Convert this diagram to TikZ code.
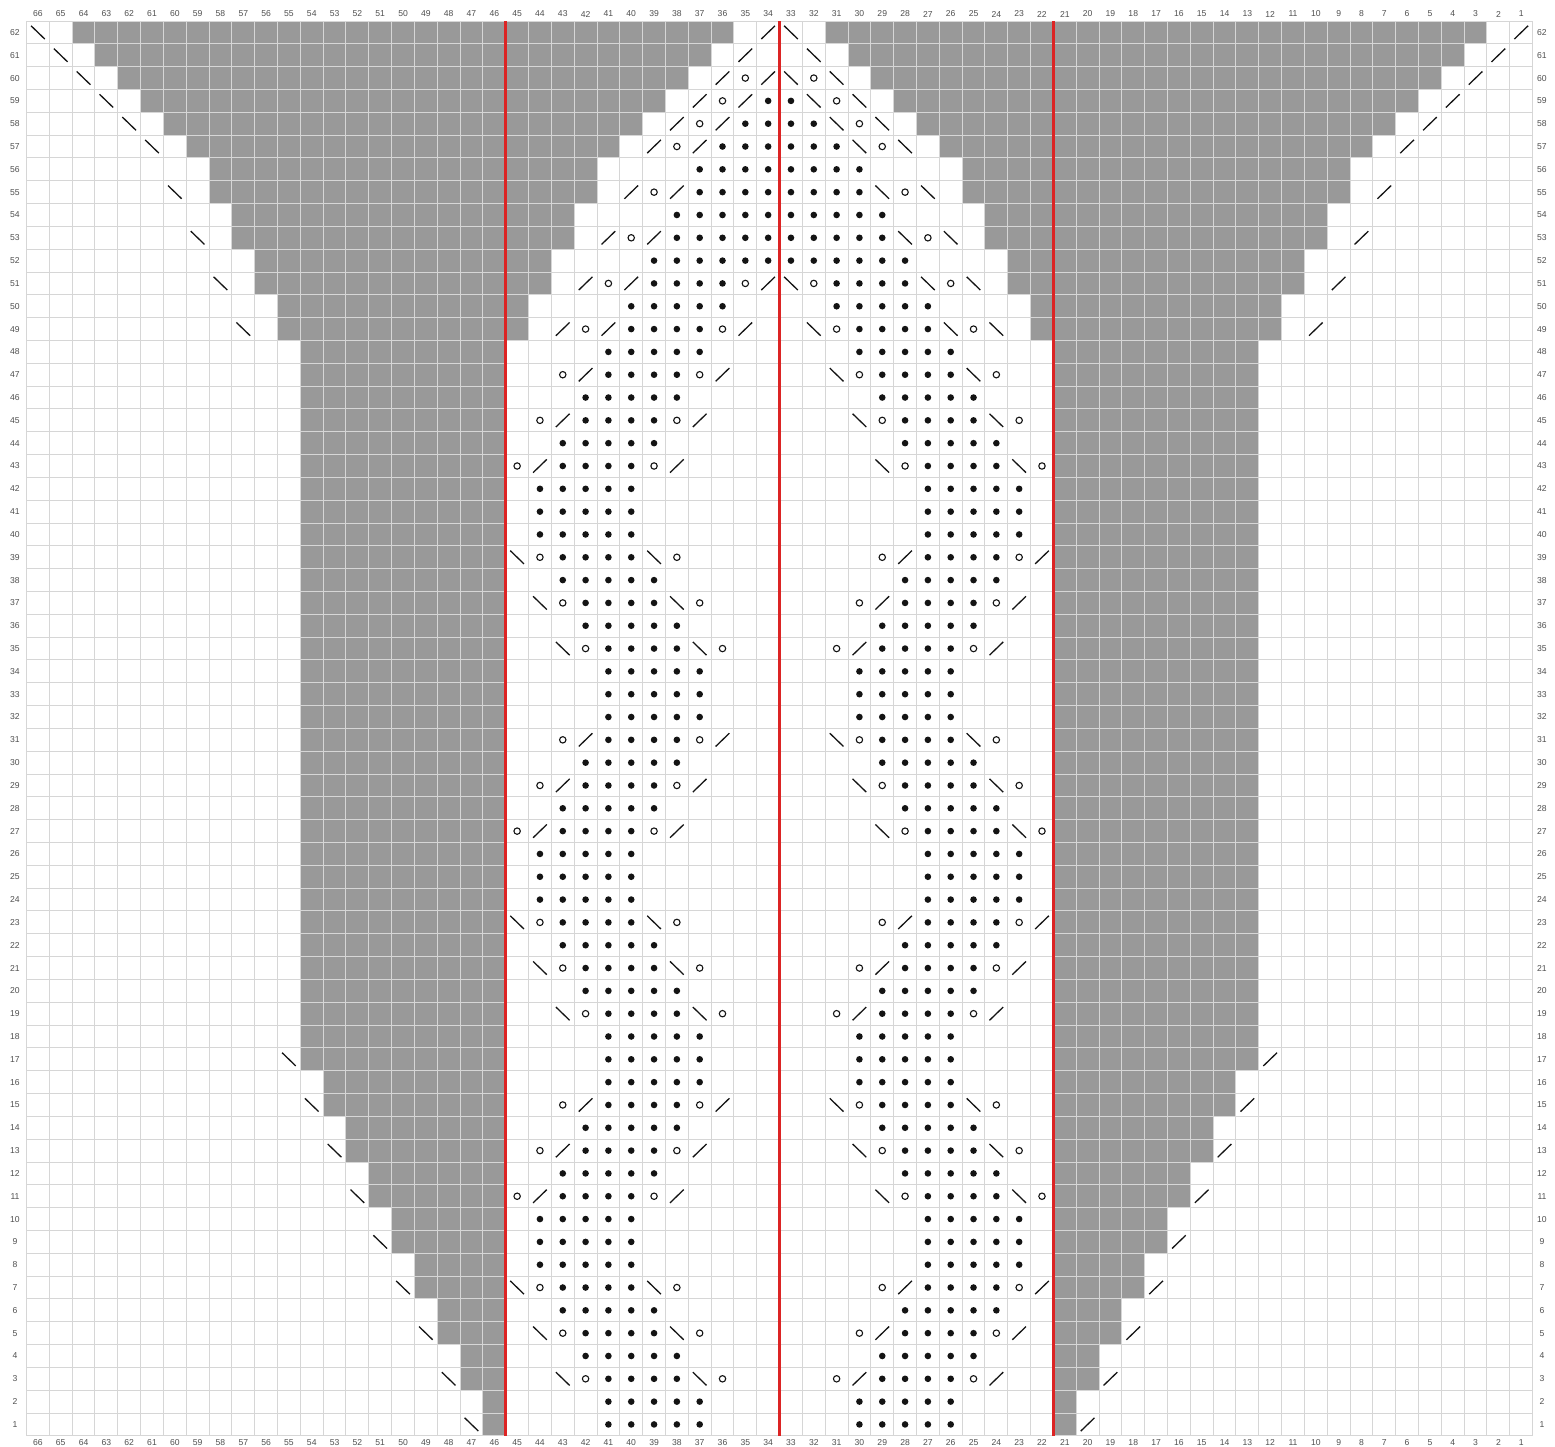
\documentclass[tikz,border=0pt]{standalone}
\usepackage{fontspec}
\setmainfont{Liberation Sans}
\definecolor{cellgray}{RGB}{153,153,153}
\definecolor{gridc}{RGB}{214,214,214}
\definecolor{redc}{RGB}{220,36,36}
\definecolor{labc}{RGB}{80,80,80}
\definecolor{symc}{RGB}{20,20,20}
\tikzset{
  gridline/.style={draw=gridc, line width=0.5pt},
  redline/.style={draw=redc, line width=1.6pt},
  lab/.style={inner sep=0pt, text=labc, font=\fontsize{4.3}{5}\selectfont},
  slc/.style={draw=symc, line width=0.65pt},
  yoc/.style={draw=symc, line width=0.55pt},
}
% gray row: row, from col A (left) to col B, plus mirror
\newcommand\GrRow[3]{%
  \fill[cellgray] ({66-(#2)},{62-(#1)}) rectangle ({67-(#3)},{63-(#1)});
  \fill[cellgray] ({(#3)-1},{62-(#1)}) rectangle ({#2},{63-(#1)});}
\newcommand\StDot[2]{%
  \fill[symc] ({66.5-(#1)},{62.5-(#2)}) circle[radius=1.65pt];
  \fill[symc] ({(#1)-0.5},{62.5-(#2)}) circle[radius=1.65pt];}
\newcommand\StYo[2]{%
  \draw[yoc] ({66.5-(#1)},{62.5-(#2)}) circle[radius=1.6pt];
  \draw[yoc] ({(#1)-0.5},{62.5-(#2)}) circle[radius=1.6pt];}
% '/' on the left half, '\' mirrored
\newcommand\StL[2]{%
  \draw[slc] ({66.5-(#1)-0.3},{62.5-(#2)+0.29}) -- ({66.5-(#1)+0.3},{62.5-(#2)-0.29});
  \draw[slc] ({(#1)-0.5-0.3},{62.5-(#2)-0.29}) -- ({(#1)-0.5+0.3},{62.5-(#2)+0.29});}
% '\' on the left half, '/' mirrored
\newcommand\StR[2]{%
  \draw[slc] ({66.5-(#1)-0.3},{62.5-(#2)-0.29}) -- ({66.5-(#1)+0.3},{62.5-(#2)+0.29});
  \draw[slc] ({(#1)-0.5-0.3},{62.5-(#2)+0.29}) -- ({(#1)-0.5+0.3},{62.5-(#2)-0.29});}
\newcommand\StDots[3]{\foreach \cc in {#2,...,#1}{\StDot{\cc}{#3}}}
\begin{document}
\begin{tikzpicture}[x=11.41pt, y=-11.41pt]
\useasboundingbox (-1.1613,-0.9202) rectangle (66.981,62.489);
\fill[white] (-1.1613,-0.9202) rectangle (66.981,62.489);
% gray regions
\foreach \r/\a/\b in {62/64/36, 61/63/37, 60/62/38, 59/61/39, 58/60/40, 57/59/41,
  56/58/42, 55/58/42, 54/57/43, 53/57/43, 52/56/44, 51/56/44, 50/55/45, 49/55/45,
  17/54/46, 16/53/46, 15/53/46, 14/52/46, 13/52/46, 12/51/46, 11/51/46, 10/50/46,
  9/50/46, 8/49/46, 7/49/46, 6/48/46, 5/48/46, 4/47/46, 3/47/46, 2/46/46, 1/46/46}
  {\GrRow{\r}{\a}{\b}}
\foreach \r in {18,...,48} {\GrRow{\r}{54}{46}}
% grid
\foreach \i in {0,...,66} {\draw[gridline] (\i,0) -- (\i,62);}
\foreach \j in {0,...,62} {\draw[gridline] (0,\j) -- (66,\j);}
% red lines
\coordinate (ra1) at (21,0); \coordinate (rb1) at (21,62);
\coordinate (ra2) at (33,0); \coordinate (rb2) at (33,62);
\coordinate (ra3) at (45,0); \coordinate (rb3) at (45,62);
\draw[redline] (ra1) -- (rb1);
\draw[redline] (ra2) -- (rb2);
\draw[redline] (ra3) -- (rb3);
% labels
\foreach \c in {1,...,66} {
  \node[lab] (top\c) at ({66.5-\c},-0.307) {\c};
  \node[lab] (bot\c) at ({66.5-\c},62.31) {\c};
}
\foreach \r in {1,...,62} {
  \node[lab] (lft\r) at (-0.504,{62.5-\r}) {\r};
  \node[lab] (rgt\r) at (66.41,{62.5-\r}) {\r};
}
% outer decreases
\foreach \c/\r in {66/62, 65/61, 64/60, 63/59, 62/58, 61/57, 60/55, 59/53, 58/51, 57/49,
  55/17, 54/15, 53/13, 52/11, 51/9, 50/7, 49/5, 48/3, 47/1} {\StR{\c}{\r}}
% repeating lace, rows 1-48
\foreach \k in {0,16,32} {
  \StDots{41}{37}{1+\k}
  \StDots{41}{37}{2+\k}
  \StR{43}{3+\k} \StYo{42}{3+\k} \StDots{41}{38}{3+\k} \StR{37}{3+\k} \StYo{36}{3+\k}
  \StDots{42}{38}{4+\k}
  \StR{44}{5+\k} \StYo{43}{5+\k} \StDots{42}{39}{5+\k} \StR{38}{5+\k} \StYo{37}{5+\k}
  \StDots{43}{39}{6+\k}
  \StR{45}{7+\k} \StYo{44}{7+\k} \StDots{43}{40}{7+\k} \StR{39}{7+\k} \StYo{38}{7+\k}
  \StDots{44}{40}{8+\k}
  \StDots{44}{40}{9+\k}
  \StDots{44}{40}{10+\k}
  \StYo{45}{11+\k} \StL{44}{11+\k} \StDots{43}{40}{11+\k} \StYo{39}{11+\k} \StL{38}{11+\k}
  \StDots{43}{39}{12+\k}
  \StYo{44}{13+\k} \StL{43}{13+\k} \StDots{42}{39}{13+\k} \StYo{38}{13+\k} \StL{37}{13+\k}
  \StDots{42}{38}{14+\k}
  \StYo{43}{15+\k} \StL{42}{15+\k} \StDots{41}{38}{15+\k} \StYo{37}{15+\k} \StL{36}{15+\k}
  \StDots{41}{37}{16+\k}
}
% top section
\StL{43}{49} \StYo{42}{49} \StL{41}{49} \StDots{40}{37}{49} \StYo{36}{49} \StL{35}{49}
\StDots{40}{36}{50}
\StL{42}{51} \StYo{41}{51} \StL{40}{51} \StDots{39}{36}{51} \StYo{35}{51} \StL{34}{51}
\StDots{39}{34}{52}
\StL{41}{53} \StYo{40}{53} \StL{39}{53} \StDots{38}{34}{53}
\StDots{38}{34}{54}
\StL{40}{55} \StYo{39}{55} \StL{38}{55} \StDots{37}{34}{55}
\StDots{37}{34}{56}
\StL{39}{57} \StYo{38}{57} \StL{37}{57} \StDots{36}{34}{57}
\StL{38}{58} \StYo{37}{58} \StL{36}{58} \StDots{35}{34}{58}
\StL{37}{59} \StYo{36}{59} \StL{35}{59} \StDot{34}{59}
\StL{36}{60} \StYo{35}{60} \StL{34}{60}
\StL{35}{61}
\StL{34}{62}
\end{tikzpicture}
\end{document}
